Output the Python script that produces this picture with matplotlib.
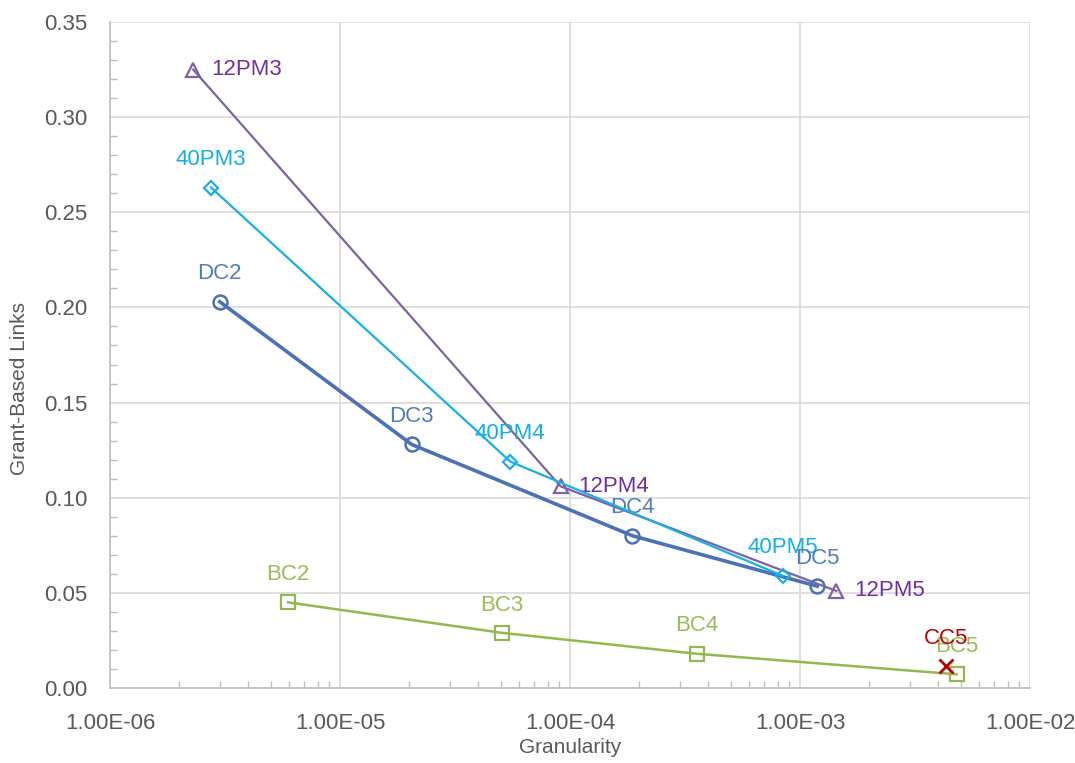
import numpy as np
import matplotlib
matplotlib.use("Agg")
import matplotlib.pyplot as plt
from matplotlib.ticker import FuncFormatter, MultipleLocator, LogLocator

plt.rcParams['font.family'] = ['Liberation Sans', 'DejaVu Sans']

# Data
pm12_x = [2.30e-6, 9.1e-5, 1.44e-3]
pm12_y = [0.325, 0.106, 0.051]
pm12_lbl = ["12PM3", "12PM4", "12PM5"]

pm40_x = [2.75e-6, 5.5e-5, 8.4e-4]
pm40_y = [0.263, 0.119, 0.059]
pm40_lbl = ["40PM3", "40PM4", "40PM5"]

dc_x = [3.0e-6, 2.05e-5, 1.87e-4, 1.19e-3]
dc_y = [0.203, 0.128, 0.080, 0.0535]
dc_lbl = ["DC2", "DC3", "DC4", "DC5"]

bc_x = [5.95e-6, 5.05e-5, 3.55e-4, 4.8e-3]
bc_y = [0.045, 0.029, 0.018, 0.0072]
bc_lbl = ["BC2", "BC3", "BC4", "BC5"]

cc_x = [4.3e-3]
cc_y = [0.0115]
cc_lbl = ["CC5"]

fig = plt.figure(figsize=(10.75, 7.63), dpi=100)
ax = fig.add_axes([0.1023, 0.0983, 0.8558, 0.8729])

ax.plot(pm12_x, pm12_y, color="#7F62A2", lw=1.6, marker="^", ms=10,
        mfc="none", mec="#7F62A2", mew=1.6, zorder=3)
ax.plot(pm40_x, pm40_y, color="#17B0E8", lw=1.6, marker="D", ms=7,
        mfc="none", mec="#17B0E8", mew=1.6, zorder=4)
ax.plot(dc_x, dc_y, color="#4A72B8", lw=2.6, marker="o", ms=10,
        mfc="none", mec="#4A72B8", mew=1.8, zorder=3)
ax.plot(bc_x, bc_y, color="#92B84E", lw=1.8, marker="s", ms=10,
        mfc="none", mec="#92B84E", mew=1.6, zorder=3)
ax.plot(cc_x, cc_y, color="#C00000", lw=0, marker="x", ms=10,
        mew=2, zorder=5)

fs = 16

# labels to the right of the triangles
for x, y, t in zip(pm12_x, pm12_y, pm12_lbl):
    ax.annotate(t, (x, y), xytext=(13, 0), textcoords="offset points",
                ha="left", va="center", color="#7030A0", fontsize=fs)

# labels above the other markers (overlaps kept as in the original)
for xs, ys, ts, c in [(pm40_x, pm40_y, pm40_lbl, "#12AEE6"),
                      (dc_x, dc_y, dc_lbl, "#4F7DBE"),
                      (bc_x, bc_y, bc_lbl, "#9BBB59"),
                      (cc_x, cc_y, cc_lbl, "#C00000")]:
    for x, y, t in zip(xs, ys, ts):
        ax.annotate(t, (x, y), xytext=(0, 20), textcoords="offset points",
                    ha="center", va="center", color=c, fontsize=fs)

ax.set_xscale("log")
ax.set_xlim(1e-6, 1e-2)
ax.set_ylim(0, 0.35)
ax.xaxis.set_major_locator(LogLocator(base=10, numticks=10))
ax.xaxis.set_minor_locator(LogLocator(base=10, subs=np.arange(2, 10), numticks=20))
ax.xaxis.set_major_formatter(FuncFormatter(lambda v, p: f"{v:.2E}"))
ax.xaxis.set_minor_formatter(FuncFormatter(lambda v, p: ""))
ax.yaxis.set_major_locator(MultipleLocator(0.05))
ax.yaxis.set_minor_locator(MultipleLocator(0.01))
ax.yaxis.set_major_formatter(FuncFormatter(lambda v, p: f"{v:.2f}"))

ax.grid(True, which="major", color="#D9D9D9", lw=1.2)
ax.set_axisbelow(True)
for s in ["top", "right"]:
    ax.spines[s].set_visible(False)
for s in ["left", "bottom"]:
    ax.spines[s].set_color("#BFBFBF")
    ax.spines[s].set_linewidth(1.2)

ax.tick_params(which="major", length=0, labelsize=fs, labelcolor="#595959")
ax.tick_params(axis="y", which="major", pad=16)
ax.tick_params(axis="x", which="major", pad=18)
ax.tick_params(which="minor", direction="in", length=5, color="#BFBFBF", width=1)

ax.set_xlabel("Granularity", fontsize=15, color="#595959", labelpad=3)
ax.set_ylabel("Grant-Based Links", fontsize=15, color="#595959")
ax.yaxis.set_label_coords(-0.088, 0.45)

fig.savefig("out.png", dpi=100)
